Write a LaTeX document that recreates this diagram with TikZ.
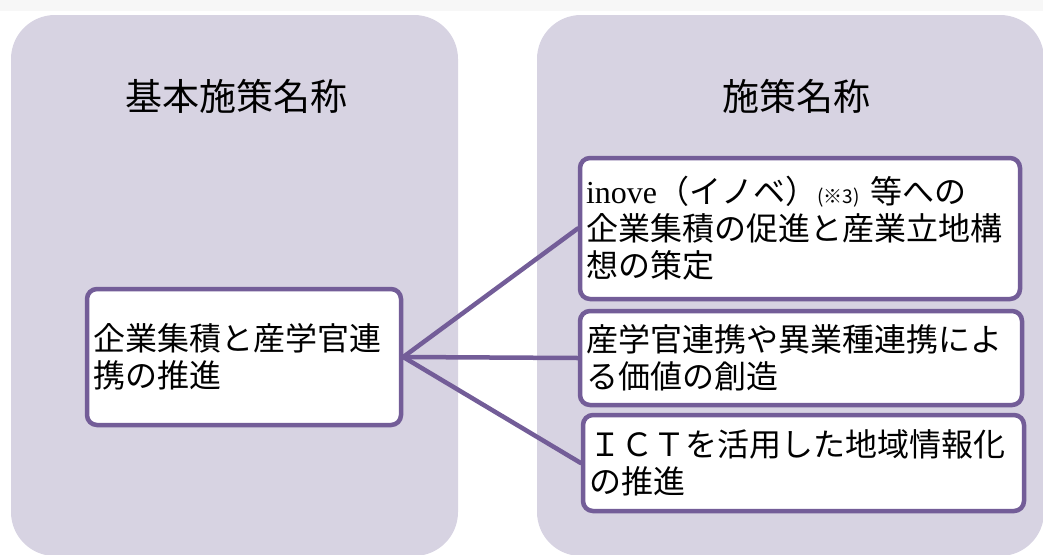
\documentclass[tikz,border=0pt]{standalone}
\usepackage{fontspec}
\setmainfont{Liberation Serif}
\newfontfamily\cjk{Noto Sans CJK JP}
\definecolor{panelbg}{HTML}{D7D3E2}
\definecolor{boxline}{HTML}{735D98}
\definecolor{topstrip}{HTML}{F7F7F7}
\tikzset{
  panel/.style={fill=panelbg, draw=none, rounded corners=44pt},
  itembox/.style={draw=boxline, line width=4.5pt, fill=white, rounded corners=10pt,
    rectangle, inner xsep=6pt, inner ysep=0pt, align=left,
    font=\cjk\fontsize{32}{37}\selectfont},
  title/.style={font=\cjk\fontsize{37}{40}\selectfont, inner sep=0pt},
  link/.style={draw=boxline, line width=4.5pt, line cap=round}
}
\begin{document}
\begin{tikzpicture}[x=1pt,y=-1pt]
\useasboundingbox (0,0) rectangle (1043,554);
\begin{scope}
\clip (0,0) rectangle (1043,554);
\fill[topstrip] (0,0) rectangle (1043,11);
\fill[panel] (11,15) rectangle (458,556);
\fill[panel] (537,15) rectangle (1044,556);
\end{scope}
\node[title] (t1) at (236,96) {基本施策名称};
\node[title] (t2) at (796,96) {施策名称};
\node[itembox, minimum width=314pt, minimum height=136pt, text width=302pt] (L) at (244,357)
  {企業集積と産学官連\\携の推進};
\node[itembox, minimum width=440pt, minimum height=141pt, text width=428pt] (R1) at (800,228.5)
  {{\rmfamily inove}（イノベ）{\fontsize{19}{19}\selectfont (※3)} 等への\\企業集積の促進と産業立地構\\想の策定};
\node[itembox, minimum width=442pt, minimum height=94pt, text width=430pt] (R2) at (801,358)
  {産学官連携や異業種連携によ\\る価値の創造};
\node[itembox, minimum width=441pt, minimum height=96pt, text width=429pt] (R3) at (803.5,463)
  {ＩＣＴを活用した地域情報化\\の推進};
\draw[link] (L.east) -- (R1.west);
\draw[link] (L.east) -- (R2.west);
\draw[link] (L.east) -- (R3.west);
\end{tikzpicture}
\end{document}
